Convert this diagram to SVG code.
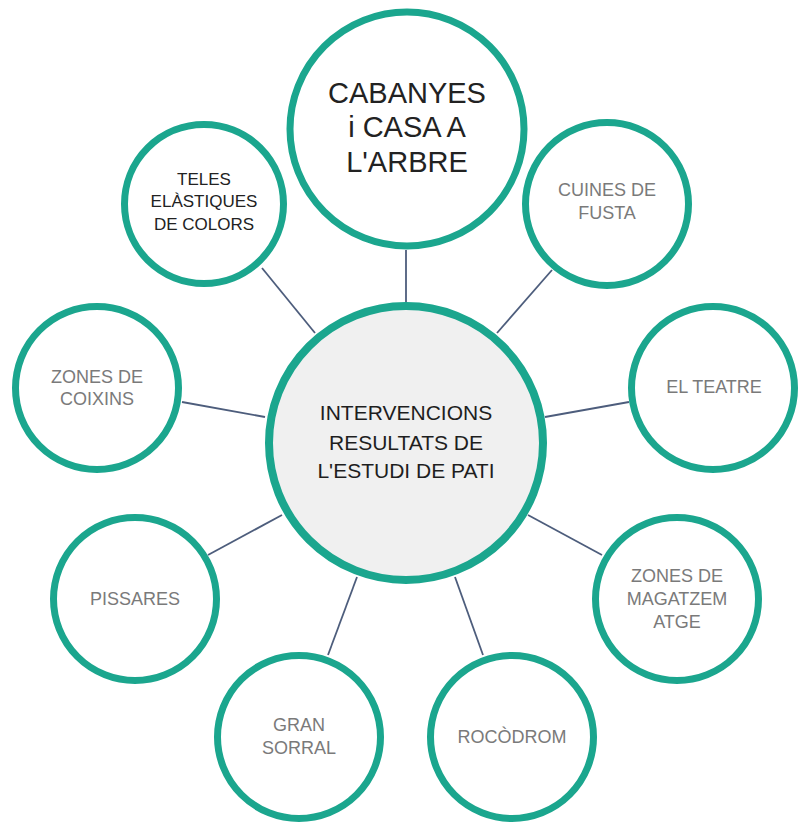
<svg xmlns="http://www.w3.org/2000/svg" width="798" height="824" viewBox="0 0 798 824">
<style>
.ring{fill:#ffffff;stroke:#1ba68e;stroke-width:7}
.hub{fill:#f0f0f0;stroke:#1ba68e;stroke-width:8}
.edge{stroke:#4d5d7c;stroke-width:1.8;fill:none}
.lbl{font-family:"Liberation Sans",Arial,sans-serif;font-size:18px;fill:#7a7a7a;text-anchor:middle}
.dark{font-family:"Liberation Sans",Arial,sans-serif;fill:#222222;text-anchor:middle}
.hubt{font-family:"Liberation Sans",Arial,sans-serif;font-size:21px;fill:#1e1e1e;text-anchor:middle}
</style>
<rect width="798" height="824" fill="#ffffff"/>
<g id="connectors">
<line class="edge" x1="406" y1="250" x2="406" y2="306"/>
<line class="edge" x1="262" y1="268" x2="315" y2="333"/>
<line class="edge" x1="552" y1="270" x2="497" y2="333"/>
<line class="edge" x1="182" y1="402" x2="265" y2="417"/>
<line class="edge" x1="629" y1="402" x2="545" y2="417"/>
<line class="edge" x1="208" y1="555" x2="282" y2="515"/>
<line class="edge" x1="602" y1="555" x2="528" y2="515"/>
<line class="edge" x1="328" y1="655" x2="357" y2="577"/>
<line class="edge" x1="483" y1="655" x2="455" y2="577"/>
</g>
<g id="node-center">
<circle class="hub" cx="406" cy="443" r="137"/>
<text class="hubt" x="406" y="420">INTERVENCIONS</text>
<text class="hubt" x="406" y="450">RESULTATS DE</text>
<text class="hubt" x="406" y="478">L'ESTUDI DE PATI</text>
</g>
<g id="node-cabanyes">
<circle class="ring" cx="407" cy="129" r="117"/>
<text class="dark" font-size="29" x="407" y="103">CABANYES</text>
<text class="dark" font-size="29" x="407" y="137">i CASA A</text>
<text class="dark" font-size="29" x="407" y="172">L'ARBRE</text>
</g>
<g id="node-teles">
<circle class="ring" cx="204" cy="204" r="79.5"/>
<text class="dark" font-size="17" x="204" y="185">TELES</text>
<text class="dark" font-size="17" x="204" y="207">ELÀSTIQUES</text>
<text class="dark" font-size="17" x="204" y="230">DE COLORS</text>
</g>
<g id="node-cuines">
<circle class="ring" cx="607" cy="204" r="81.5"/>
<text class="lbl" x="607" y="196">CUINES DE</text>
<text class="lbl" x="607" y="219">FUSTA</text>
</g>
<g id="node-teatre">
<circle class="ring" cx="713" cy="388" r="81.5"/>
<text class="lbl" x="714" y="393">EL TEATRE</text>
</g>
<g id="node-coixins">
<circle class="ring" cx="97" cy="388" r="81.5"/>
<text class="lbl" x="97" y="383">ZONES DE</text>
<text class="lbl" x="97" y="405">COIXINS</text>
</g>
<g id="node-pissares">
<circle class="ring" cx="135" cy="599" r="81.5"/>
<text class="lbl" x="135" y="605">PISSARES</text>
</g>
<g id="node-magatzem">
<circle class="ring" cx="677" cy="599" r="81.5"/>
<text class="lbl" x="677" y="582">ZONES DE</text>
<text class="lbl" x="677" y="605">MAGATZEM</text>
<text class="lbl" x="677" y="628">ATGE</text>
</g>
<g id="node-sorral">
<circle class="ring" cx="299" cy="737" r="81.5"/>
<text class="lbl" x="299" y="731">GRAN</text>
<text class="lbl" x="299" y="754">SORRAL</text>
</g>
<g id="node-rocodrom">
<circle class="ring" cx="512" cy="737" r="81.5"/>
<text class="lbl" x="512" y="743">ROCÒDROM</text>
</g>
</svg>
